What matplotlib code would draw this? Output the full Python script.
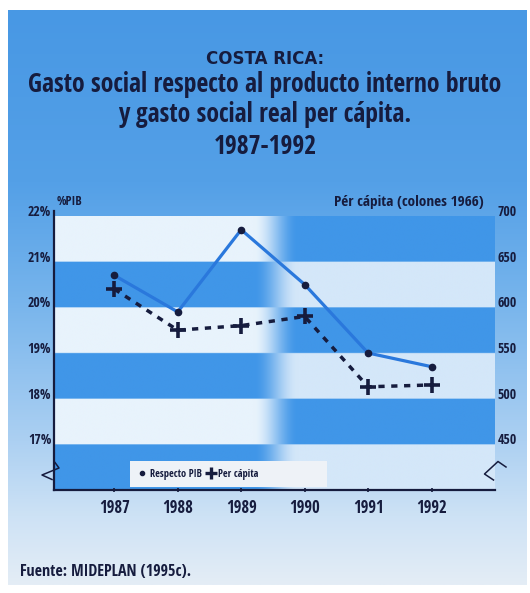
import numpy as np
import matplotlib
matplotlib.use("Agg")
import matplotlib.pyplot as plt
from matplotlib import font_manager as fm
from matplotlib.lines import Line2D
from matplotlib.patches import Rectangle

# ---------------- data ----------------
years = [1987, 1988, 1989, 1990, 1991, 1992]
gasto_pib = [20.7, 19.9, 21.7, 20.5, 19.0, 18.7]          # % del PIB (eje izq.)
gasto_percapita = [620, 575, 580, 590, 513, 515]           # colones 1966 (eje der.)
pib_ticks = [17, 18, 19, 20, 21, 22]
pib_tick_labels = ["17%", "18%", "19%", "20%", "21%", "22%"]
pc_ticks = [450, 500, 550, 600, 650, 700]
pc_tick_labels = ["450", "500", "550", "600", "650", "700"]

title_top = "COSTA RICA:"
title_lines = ["Gasto social respecto al producto interno bruto",
               "y gasto social real per cápita.",
               "1987-1992"]
left_label = "%PIB"
right_label = "Pér cápita (colones 1966)"
legend_labels = ["Respecto PIB", "Per cápita"]
source = "Fuente: MIDEPLAN (1995c)."

# ---------------- fonts ----------------
avail = {f.name for f in fm.fontManager.ttflist}
FONT = "DejaVu Sans"
STRETCH = "condensed"
for cand in ["Open Sans Condensed", "Roboto Condensed", "Noto Sans Condensed",
             "Liberation Sans Narrow"]:
    if cand in avail:
        FONT = cand
        break

def fp(size, weight="bold"):
    return dict(family=[FONT, "DejaVu Sans"], size=size, weight=weight,
                stretch=STRETCH)

NAVY = "#161c3e"
W, H = 530, 593
fig = plt.figure(figsize=(W / 100, H / 100), dpi=100, facecolor="white")

# ---------------- background panel (vertical gradient) ----------------
bg = fig.add_axes([8 / W, 8 / H, 519 / W, 575 / H], zorder=-10)
stops_t = [0.0, 0.3, 0.5, 0.75, 0.88, 1.0]
stops_c = np.array([[72, 152, 228], [84, 160, 231], [118, 180, 236],
                    [172, 208, 242], [205, 226, 245], [228, 237, 246]]) / 255
t = np.linspace(0, 1, 300)
grad = np.stack([np.interp(t, stops_t, stops_c[:, k]) for k in range(3)], axis=1)
bg.imshow(grad[:, None, :], aspect="auto", extent=[0, 1, 0, 1], origin="upper")
bg.set_axis_off()

# ---------------- main axes ----------------
x0, x1, yb, yt = 54, 495, 490, 216
ax = fig.add_axes([x0 / W, (H - yb) / H, (x1 - x0) / W, (yb - yt) / H])
ax.set_xlim(1986.05, 1993.0)
ax.set_ylim(16, 22)
ax.patch.set_visible(False)

# bands with left/right colours swapping across the middle
dark = np.array([64, 150, 232]) / 255
light_l = np.array([232, 243, 252]) / 255
light_r = np.array([212, 231, 249]) / 255
nx, ny = 600, 600
xs = np.linspace(1986.05, 1993.0, nx)
ys = np.linspace(22, 16, ny)
s = np.clip((xs - 1989.2) / 0.7, 0, 1)
s = s * s * (3 - 2 * s)
img = np.zeros((ny, nx, 3))
for j, yv in enumerate(ys):
    band = int(np.floor(min(yv, 21.999) - 16))
    if band % 2 == 0:   # left dark, right light
        L, R = dark, light_r
    else:
        L, R = light_l, dark
    img[j] = L[None, :] * (1 - s[:, None]) + R[None, :] * s[:, None]
ax.imshow(img, aspect="auto", extent=[1986.05, 1993.0, 16, 22], origin="upper",
          zorder=0, interpolation="bilinear")

for sp in ["top", "right"]:
    ax.spines[sp].set_visible(False)
ax.spines["left"].set_color(NAVY)
ax.spines["left"].set_linewidth(1.6)
ax.spines["bottom"].set_color(NAVY)
ax.spines["bottom"].set_linewidth(1.6)
ax.spines["left"].set_bounds(16, 22.1)

ax.set_yticks(pib_ticks)
ax.set_yticklabels(pib_tick_labels, **fp(10))
ax.tick_params(axis="y", length=0, pad=2, colors=NAVY)
for lab in ax.get_yticklabels():
    lab.set_va("baseline")

ax.set_xticks(years)
ax.set_xticklabels([str(y) for y in years], **fp(12))
ax.tick_params(axis="x", length=3, width=1.2, direction="inout", pad=5, colors=NAVY)

ax.plot(years, gasto_pib, color="#2a78dc", lw=2.3, marker="o", ms=4.5,
        mfc=NAVY, mec=NAVY, zorder=5, solid_joinstyle="miter")

ax2 = ax.twinx()
ax2.set_ylim(400, 700)
ax2.set_xlim(1986.05, 1993.0)
for sp in ax2.spines.values():
    sp.set_visible(False)
ax2.set_yticks(pc_ticks)
ax2.set_yticklabels(pc_tick_labels, **fp(10))
ax2.tick_params(axis="y", length=0, pad=2, colors=NAVY)
for lab in ax2.get_yticklabels():
    lab.set_va("baseline")
ax2.plot(years, gasto_percapita, color=NAVY, lw=2.5, linestyle=(0, (1.8, 1.9)),
         marker="+", ms=11, mew=2.6, zorder=6)

# legend box
ax2.add_patch(Rectangle(((130 - x0) / (x1 - x0), (yb - 487) / (yb - yt)),
                        (327 - 130) / (x1 - x0), (487 - 461) / (yb - yt),
                        transform=ax2.transAxes, facecolor="#eef2f7",
                        edgecolor="none", zorder=7))
handles = [Line2D([], [], ls="none", marker="o", ms=3, color=NAVY),
           Line2D([], [], ls="none", marker="+", ms=9, mew=2.4, color=NAVY)]
leg = ax2.legend(handles, legend_labels, loc="center left", ncol=2, frameon=False,
                 bbox_to_anchor=((133 - x0) / (x1 - x0), (yb - 474) / (yb - yt)),
                 handlelength=0.8, handletextpad=0.3, columnspacing=0.5,
                 borderpad=0, prop=fm.FontProperties(family=[FONT, "DejaVu Sans"],
                                                     size=7.5, stretch=STRETCH))
for txt in leg.get_texts():
    txt.set_color(NAVY)
leg.set_zorder(8)

# axis break marks
def px2ax(pts):
    return [(px - x0) / (x1 - x0) for px, py in pts], [(yb - py) / (yb - yt) for px, py in pts]

lx, ly = px2ax([(55, 462.5), (59, 468), (42, 475), (52, 479.5)])
ax2.plot(lx, ly, color=NAVY, lw=1.1, transform=ax2.transAxes, clip_on=False, zorder=9)
rx, ry = px2ax([(506, 467), (498, 461.5), (484.5, 474), (493.5, 480)])
ax2.plot(rx, ry, color=NAVY, lw=1.1, transform=ax2.transAxes, clip_on=False, zorder=9)

# axis titles
fig.text(57 / W, 1 - 201 / H, left_label, ha="left", va="center", color=NAVY, **fp(9))
fig.text(484 / W, 1 - 202 / H, right_label, ha="right", va="center", color=NAVY, **fp(11))

# titles
fig.text(265 / W, 1 - 59 / H, title_top, ha="center", va="center", color=NAVY,
         family="DejaVu Sans", size=12, weight="bold")
for txt, yc in zip(title_lines, [84, 114, 147]):
    fig.text(265 / W, 1 - yc / H, txt, ha="center", va="center", color=NAVY, **fp(18.5))

fig.text(20 / W, 1 - 572 / H, source, ha="left", va="center", color=NAVY,
         **fp(11.5, weight="normal"))

fig.savefig("out.png", dpi=100, facecolor="white")
